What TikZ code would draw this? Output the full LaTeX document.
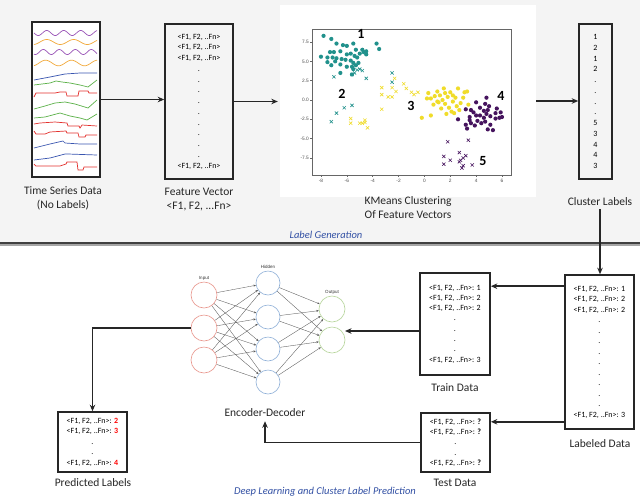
\documentclass[tikz,border=0pt]{standalone}
\usepackage{fontspec}
\setmainfont{Carlito}
\newfontfamily\arialf{Liberation Sans}
\usetikzlibrary{arrows.meta,calc}
\definecolor{bgtop}{HTML}{F4F4F4}
\definecolor{tsPurple}{HTML}{9A55B8}
\definecolor{tsOrange}{HTML}{F2A93B}
\definecolor{tsBlue}{HTML}{3A56B0}
\definecolor{tsGreen}{HTML}{5DB24A}
\definecolor{tsRed}{HTML}{E3312E}
\definecolor{vTeal}{HTML}{21918C}
\definecolor{vYellow}{HTML}{F0DC2A}
\definecolor{vPurple}{HTML}{46145E}
\definecolor{capBlue}{HTML}{3250A4}
\definecolor{inC}{HTML}{E8968C}
\definecolor{hidC}{HTML}{8FB0D8}
\definecolor{outC}{HTML}{B6D59B}
\begin{document}
\begin{tikzpicture}[x=1pt,y=-1pt,
  box/.style={draw=black!85, line width=1.6pt, inner sep=0pt, align=center,
    font=\fontsize{8}{10.75}\selectfont},
  lbl/.style={align=center, inner sep=0pt, font=\fontsize{11.5}{14}\selectfont, text=black!85},
  captxt/.style={inner sep=0pt, font=\fontsize{10.5}{12}\selectfont\itshape, text=capBlue},
  arr/.style={draw=black!85, line width=1.6pt, -{Stealth[length=6.5pt,width=5.5pt]}},
  nnedge/.style={draw=black!65, line width=0.35pt, -{Stealth[length=2.5pt,width=2pt]}},
  tsline/.style={line width=0.7pt},
  ticklbl/.style={font=\arialf\fontsize{4.8}{5}\selectfont, text=black!70, inner sep=1pt},
  nnl/.style={font=\arialf\fontsize{4.5}{5}\selectfont, text=black!80, inner sep=0pt},
  clnum/.style={font=\bfseries\fontsize{14}{14}\selectfont, inner sep=0pt}
]
\useasboundingbox (0,0) rectangle (640,499);
\fill[white] (0,0) rectangle (640,499);
\fill[bgtop] (0,0) rectangle (640,243);
\draw[black!35, line width=2pt] (0,244.5) -- (640,244.5);
\draw[black!75, line width=1.3pt] (0,243) -- (640,243);

% ---------- Time series ----------
\node[draw=black!85, line width=1.6pt, fill=white, minimum width=68, minimum height=155, inner sep=0pt] (ts) at (66,99.5) {};
\draw[tsline, tsPurple] plot[domain=34:97, samples=90] (\x,{33+2.5*sin((\x-34)*21.18)});
\draw[tsline, tsOrange] plot[domain=34:97, samples=90] (\x,{42+2.5*sin((\x-34)*13.33+100)});
\draw[tsline, tsPurple] plot[domain=34:97, samples=90] (\x,{52+2.5*sin((\x-34)*22.5+60)});
\draw[tsline, tsOrange] plot[domain=34:97, samples=90] (\x,{63+2.8*sin((\x-34)*13.85+110)});
\draw[tsline, tsBlue] (34,80) -- (50,77) -- (65,74) -- (80,73) -- (97,73);
\draw[tsline, tsGreen] (34,85) -- (42,84) -- (50,83) -- (56,81) -- (62,82) -- (70,83) -- (80,85) -- (88,87) -- (97,80);
\draw[tsline, tsRed] (34,97) -- (36,93) -- (55,93) -- (60,92) -- (66,92) -- (67,96) -- (78,96) -- (79,91) -- (88,91) -- (89,93) -- (97,93);
\draw[tsline, tsGreen] (34,109) -- (45,106) -- (55,103) -- (65,102) -- (75,104) -- (88,108) -- (97,100);
\draw[tsline, tsGreen] (34,118) -- (45,117) -- (60,113) -- (70,116) -- (80,118) -- (87,120) -- (97,114);
\draw[tsline, tsRed] (34,124) -- (40,123) -- (55,122) -- (67,123) -- (68,126) -- (79,126) -- (80,128) -- (82,125) -- (97,126);
\draw[tsline, tsRed] (34,131) -- (36,134) -- (45,134) -- (50,132) -- (66,131) -- (67,133) -- (78,133) -- (79,137) -- (85,137) -- (86,135) -- (97,135);
\draw[tsline, tsBlue] (34,148) -- (50,144) -- (63,141) -- (65,143) -- (80,144) -- (97,144);
\draw[tsline, tsBlue] (34,160) -- (50,158) -- (65,154) -- (68,154) -- (97,155);
\draw[tsline, tsRed] (34,164) -- (36,166) -- (60,166) -- (66,164) -- (67,162) -- (77,162) -- (78,170) -- (83,170) -- (84,167) -- (97,167);
\node[lbl] (tsl) at (63,198) {Time Series Data\\(No Labels)};

% ---------- Feature vector ----------
\node[box, minimum width=68, minimum height=155] (fv) at (199,101.5)
  {<F1, F2, ..Fn>\\<F1, F2, ..Fn>\\<F1, F2, ..Fn>\\.\\.\\.\\.\\.\\.\\.\\.\\.\\<F1, F2, ..Fn>};
\node[lbl] (fvl) at (199,200) {Feature Vector\\<F1, F2, ...Fn>};

% ---------- KMeans scatter ----------
\node[fill=white, minimum width=256, minimum height=192, inner sep=0pt] (km) at (408,101) {};
\begin{scope}[shift={(424.4,100)}]
\begin{scope}[x=12.93pt, y=7.73pt]
  \draw[black!60, line width=0.5pt] (-8.69,-9.7) rectangle (6.70,9.18);
  \foreach \t in {-8,-6,-4,-2,0,2,4,6} {
    \draw[black!60, line width=0.4pt] (\t,-9.7) -- ++(0,-2pt);
    \node[ticklbl, below] at (\t,-10.1) {\t};
  }
  \foreach \t/\s in {7.5/7.5,5/5.0,2.5/2.5,0/0.0,-2.5/-2.5,-5/-5.0,-7.5/-7.5} {
    \draw[black!60, line width=0.4pt] (-8.69,\t) -- ++(-2pt,0);
    \node[ticklbl, left] at (-8.85,\t) {\s};
  }
  % teal dots
  \foreach \p in {(-7.8,8.3),(-7.2,7.9),(-6.8,7.3),(-6.3,7.1),(-6,7),(-5.5,7.3),(-5.3,6.5),(-4.8,6.5),(-4.5,6.3),(-3.7,7.3),(-3.5,6.6),(-8,5.6),(-7.3,6.2),(-7,6.2),(-6.5,6.3),(-6,5.9),(-5.7,6),(-5.4,5.7),(-5.2,5.5),(-5,6),(-4.7,6.2),(-7.5,5.5),(-7.1,5.5),(-6.8,5.4),(-6.4,5.3),(-6.1,5.2),(-5.7,5.1),(-5.5,4.8),(-5.1,4.8),(-7.5,4.9),(-7.2,4.5),(-6.5,4.6),(-6,4.3),(-5.6,4.3),(-5.3,4.5),(-5.5,4),(-6.5,3.5),(-5.6,3.3),(-6.9,5),(-4.5,5.9)}
    \fill[vTeal] \p circle[radius=2.1pt];
  % yellow dots
  \foreach \p in {(0.3,0.9),(0.5,0.2),(0.8,0.5),(1,1.1),(1.2,0.6),(1.4,0),(1.6,-0.5),(1.8,0.4),(2,1),(2.2,-0.2),(2.4,0.3),(2.6,1.5),(1.5,1.5),(1.9,-1),(2.1,-1.5),(2.5,-0.8),(2.8,-0.4),(3,0.3),(3.1,1),(3.3,1.1),(0.7,-0.6),(1.1,-0.3),(1.3,-1.1),(1.7,-1.8),(2.3,-1.7),(2.7,-1.3),(3.4,-0.6),(-0.2,-2.3),(0.5,-2),(1,-0.2),(1.6,0.9),(2.2,0.6),(0.2,0.2)}
    \fill[vYellow] \p circle[radius=2.1pt];
  % purple dots
  \foreach \p in {(3.2,-1.2),(3.6,-1.3),(4,-0.3),(4.3,-1),(4.7,-0.5),(4.9,-1.3),(4.8,0.3),(5.6,-1.1),(5.9,-1.6),(6,-2.2),(5.8,-2.3),(5.5,-2.4),(5.1,-2.1),(4.8,-1.8),(4.6,-2.3),(4.3,-2),(4,-2),(3.8,-1.6),(3.5,-2.2),(2.6,-2.5),(3.2,-3.2),(3.5,-2.6),(4.1,-2.7),(4.4,-3),(4.7,-2.8),(5.1,-3.2),(3.3,-3.7),(3.6,-3),(3.9,-3.3),(4.9,-3.8),(5.3,-3.9),(4.6,-1.4),(5,-0.8),(5.5,-1.7)}
    \fill[vPurple] \p circle[radius=2.1pt];
  % teal crosses
  \foreach \p in {(-5.6,3.3),(-5.4,3.5),(-5.2,3.9),(-5,4),(-4.8,3.8),(-7,3),(-4.5,2.8),(-2.5,3.5),(-2.5,2.3),(-6.2,-1),(-5.6,-0.7),(-6.8,-1.7),(-7.2,-2.8)}
    \draw[vTeal, line width=0.6pt] \p ++(-1.6pt,-1.6pt) -- ++(3.2pt,3.2pt) ++(-3.2pt,0) -- ++(3.2pt,-3.2pt);
  % yellow crosses
  \foreach \p in {(-5.7,-2.4),(-5.7,-3),(-5,-3),(-4.8,-3),(-4.6,-2.6),(-4.6,-2.9),(-4.4,-3.6),(-3.3,1.6),(-3.3,0.7),(-3.3,-1.2),(-2.3,2.8),(-2.5,1.6),(-2.2,1.1),(-2.5,0.4),(-2.8,0.4),(-1.6,2.1),(-1.4,1.5),(-1,1),(-0.8,0.7),(-0.5,1)}
    \draw[vYellow, line width=0.6pt] \p ++(-1.6pt,-1.6pt) -- ++(3.2pt,3.2pt) ++(-3.2pt,0) -- ++(3.2pt,-3.2pt);
  % purple crosses
  \foreach \p in {(1.5,-7.3),(1.5,-8.3),(2,-7.8),(1.8,-5.4),(2.7,-6.8),(2.8,-7.8),(3,-7.5),(3.2,-7.2),(3,-8.5),(3.4,-5.2),(3.7,-8.4),(2.9,-8.8),(2.7,-8)}
    \draw[vPurple, line width=0.6pt] \p ++(-1.6pt,-1.6pt) -- ++(3.2pt,3.2pt) ++(-3.2pt,0) -- ++(3.2pt,-3.2pt);
\end{scope}
\end{scope}
\node[clnum] (n1) at (361,34) {1};
\node[clnum] (n2) at (342,94) {2};
\node[clnum] (n3) at (411,106) {3};
\node[clnum] (n4) at (501,96) {4};
\node[clnum] (n5) at (483,161) {5};
\node[lbl] (kml) at (408,208) {KMeans Clustering\\Of Feature Vectors};
\node[captxt] (lg) at (326,235) {Label Generation};

% ---------- Cluster labels ----------
\node[box, minimum width=33, minimum height=155] (cl) at (595.5,101.5)
  {1\\2\\1\\2\\.\\.\\.\\.\\5\\3\\4\\4\\3};
\node[lbl] (cll) at (600,202) {Cluster Labels};

% ---------- Bottom part ----------
\node[box, minimum width=69, minimum height=154, font=\fontsize{8}{10.5}\selectfont] (lab) at (599.5,352)
  {<F1, F2, ..Fn>: 1\\<F1, F2, ..Fn>: 2\\<F1, F2, ..Fn>: 2\\.\\.\\.\\.\\.\\.\\.\\.\\.\\<F1, F2, ..Fn>: 3};
\node[lbl] (labl) at (600,444) {Labeled Data};

\node[box, minimum width=70, minimum height=102, font=\fontsize{8}{10.3}\selectfont] (train) at (455,324)
  {<F1, F2, ..Fn>: 1\\<F1, F2, ..Fn>: 2\\<F1, F2, ..Fn>: 2\\.\\.\\.\\.\\<F1, F2, ..Fn>: 3};
\node[lbl] (trainl) at (455,388) {Train Data};

\node[box, minimum width=69, minimum height=59, font=\fontsize{8}{10.25}\selectfont] (test) at (455.5,442.5)
  {<F1, F2, ..Fn>: \textbf{?}\\<F1, F2, ..Fn>: \textbf{?}\\.\\.\\<F1, F2, ..Fn>: \textbf{?}};
\node[lbl] (testl) at (455,483) {Test Data};

\node[box, minimum width=69, minimum height=60, font=\fontsize{8}{10.5}\selectfont] (pred) at (92.5,442)
  {<F1, F2, ..Fn>: \textcolor{red}{\textbf{2}}\\<F1, F2, ..Fn>: \textcolor{red}{\textbf{3}}\\.\\.\\<F1, F2, ..Fn>: \textcolor{red}{\textbf{4}}};
\node[lbl] (predl) at (93,483) {Predicted Labels};

% ---------- Neural network ----------
\node[circle, draw=inC, line width=0.6pt, minimum size=26, inner sep=0pt] (i1) at (204,295) {};
\node[circle, draw=inC, line width=0.6pt, minimum size=26, inner sep=0pt] (i2) at (204,328) {};
\node[circle, draw=inC, line width=0.6pt, minimum size=26, inner sep=0pt] (i3) at (204,360) {};
\node[circle, draw=hidC, line width=0.6pt, minimum size=24, inner sep=0pt] (h1) at (268,283) {};
\node[circle, draw=hidC, line width=0.6pt, minimum size=24, inner sep=0pt] (h2) at (268,317) {};
\node[circle, draw=hidC, line width=0.6pt, minimum size=24, inner sep=0pt] (h3) at (268,349) {};
\node[circle, draw=hidC, line width=0.6pt, minimum size=24, inner sep=0pt] (h4) at (268,382) {};
\node[circle, draw=outC, line width=0.6pt, minimum size=26, inner sep=0pt] (o1) at (332,309) {};
\node[circle, draw=outC, line width=0.6pt, minimum size=26, inner sep=0pt] (o2) at (332,340) {};
\foreach \a in {i1,i2,i3} \foreach \b in {h1,h2,h3,h4} \draw[nnedge] (\a) -- (\b);
\foreach \a in {h1,h2,h3,h4} \foreach \b in {o1,o2} \draw[nnedge] (\a) -- (\b);
\node[nnl] (inl) at (204,278) {Input};
\node[nnl] (hidl) at (268,267) {Hidden};
\node[nnl] (outl) at (332,292) {Output};
\node[lbl] (enc) at (265,413) {Encoder-Decoder};
\node[captxt] (dl) at (325,492) {Deep Learning and Cluster Label Prediction};

% ---------- Connectors ----------
\draw[arr] (ts.east) -- (ts.east -| fv.west);
\draw[arr, shorten >=2pt] (fv.east) -- (fv.east -| km.west);
\draw[arr] (km.east) -- (km.east -| cl.west);
\draw[arr] (cll.south) ++(0,3) -- (cll.south |- lab.north);
\coordinate (l1) at ([yshift=-12pt]lab.north west);
\coordinate (l2) at ([yshift=8pt]lab.south west);
\draw[arr] (l1) -- (l1 -| train.east);
\draw[arr] (l2) -- (l2 -| test.east);
\coordinate (nnin) at (345,331);
\draw[arr] (train.west |- nnin) -- (nnin);
\draw[arr] (test.west) -| ([yshift=-4pt]enc.south);
\draw[arr] (i2.west) -| (pred.north);
\end{tikzpicture}
\end{document}
